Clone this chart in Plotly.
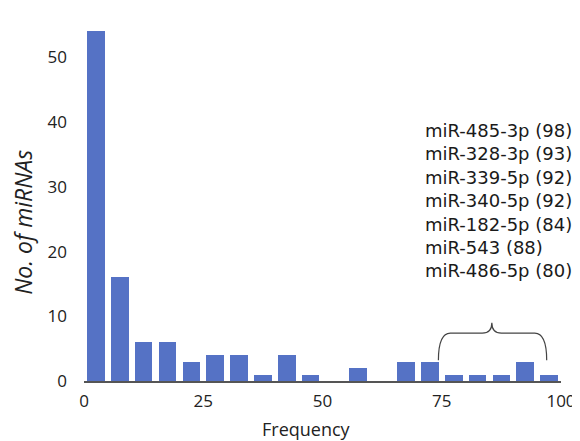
import plotly.graph_objects as go

# Data: histogram bins of width 5 (0-100)
bin_starts = [0, 5, 10, 15, 20, 25, 30, 35, 40, 45, 50, 55, 60, 65, 70, 75, 80, 85, 90, 95]
counts = [54, 16, 6, 6, 3, 4, 4, 1, 4, 1, 0, 2, 0, 3, 3, 1, 1, 1, 3, 1]
bin_width = 5
mirna_labels = [
    "miR-485-3p (98)",
    "miR-328-3p (93)",
    "miR-339-5p (92)",
    "miR-340-5p (92)",
    "miR-182-5p (84)",
    "miR-543 (88)",
    "miR-486-5p (80)",
]
x_ticks = [0, 25, 50, 75, 100]
y_ticks = [0, 10, 20, 30, 40, 50]
x_title = "Frequency"
y_title = "No. of miRNAs"

centers = [s + bin_width / 2 for s in bin_starts]

fig = go.Figure()
fig.add_trace(go.Bar(
    x=centers, y=counts, width=[bin_width * 0.74] * len(counts),
    marker=dict(color="#5572c5", line=dict(width=0)),
))

# curly brace over the top bins
bx0, bx1, bm = 74.3, 97, 85.5
yb, yh, yt = 3.2, 7.4, 9.0
path = (f"M {bx0} {yb} Q {bx0} {yh} {bx0+2.5} {yh} L {bm-2} {yh} "
        f"Q {bm} {yh} {bm} {yt} Q {bm} {yh} {bm+2} {yh} L {bx1-2.5} {yh} "
        f"Q {bx1} {yh} {bx1} {yb}")
fig.add_shape(type="path", path=path, xref="x", yref="y",
              line=dict(color="#444444", width=1.2))

fig.add_annotation(
    x=71, y=40.6, xref="x", yref="y", xanchor="left", yanchor="top",
    text="<br>".join(mirna_labels), showarrow=False, align="left",
    font=dict(family="DejaVu Sans", size=18, color="#1a1a1a"),
)

# axis titles
fig.add_annotation(
    x=0.4675, y=-0.135, xref="paper", yref="paper", xanchor="center", yanchor="middle",
    text=x_title, showarrow=False, font=dict(size=18, color="#222222"),
)
fig.add_annotation(
    x=-0.128, y=0.447, xref="paper", yref="paper", xanchor="center", yanchor="middle",
    text=f"<i>{y_title}</i>", showarrow=False, textangle=-90,
    font=dict(size=23, color="#222222"),
)

fig.update_layout(
    width=572, height=433,
    margin=dict(l=76, r=19, t=17, b=60),
    plot_bgcolor="white", paper_bgcolor="white",
    showlegend=False,
    bargap=0,
    font=dict(family="Open Sans, sans-serif", color="#222222"),
)
fig.update_xaxes(
    range=[0, 100], tickvals=x_ticks, showgrid=False, zeroline=False,
    showline=True, linecolor="#555555", linewidth=2, ticks="",
    tickfont=dict(size=17), ticklabelstandoff=4, automargin=False,
    ticklabeloverflow="allow",
)
fig.update_yaxes(
    range=[0, 55], tickvals=y_ticks, showgrid=False, zeroline=False,
    showline=False, ticks="", tickfont=dict(size=17), ticklabelstandoff=16,
    automargin=False,
)

fig.write_html("out.html")
